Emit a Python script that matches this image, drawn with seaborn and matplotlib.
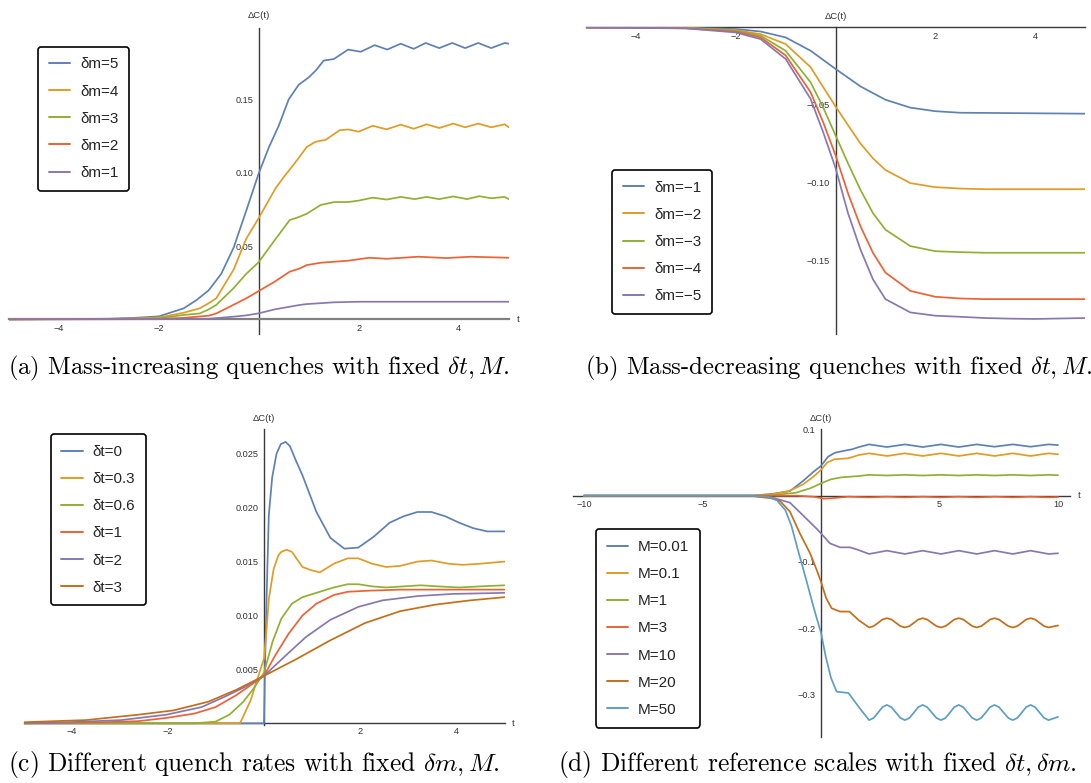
import matplotlib
matplotlib.use("Agg")
import matplotlib.pyplot as plt
import seaborn as sns
import pandas as pd
from matplotlib.ticker import FixedLocator, FuncFormatter

# ============================================================
# DATA
# ============================================================
W, H = 1091, 783
MMA = ["#5E81B5", "#E19C24", "#8FB032", "#EB6235", "#8778B3", "#C56E1A", "#5D9EC7"]

# --- (a) mass-increasing quenches
a_labels = ["δm=5", "δm=4", "δm=3", "δm=2", "δm=1"]
a_dm5_t = [-5, -3, -2.5, -2, -1.5, -1.25, -1, -0.75, -0.5, -0.25, 0, 0.2, 0.4, 0.6, 0.8, 1.0, 1.15,
           1.3, 1.5, 1.79, 2.04, 2.32, 2.57, 2.84, 3.1, 3.34, 3.61, 3.87, 4.13, 4.39, 4.65, 4.92, 5]
a_dm5_y = [0, 0.0004, 0.001, 0.002, 0.0075, 0.013, 0.0198, 0.031, 0.049, 0.074, 0.0995, 0.117, 0.132,
           0.150, 0.160, 0.165, 0.170, 0.1765, 0.1775, 0.184, 0.1825, 0.187, 0.184, 0.188, 0.1845,
           0.1885, 0.185, 0.1885, 0.185, 0.1885, 0.185, 0.1885, 0.188]
a_dm4_t = [-5, -3, -2.5, -2, -1.5, -1.18, -1, -0.85, -0.5, -0.25, 0, 0.33, 0.5, 0.71, 0.96, 1.13,
           1.34, 1.62, 1.79, 2.0, 2.28, 2.56, 2.84, 3.1, 3.36, 3.61, 3.89, 4.13, 4.39, 4.65, 4.92, 5]
a_dm4_y = [0, 0.0003, 0.0006, 0.0012, 0.0045, 0.0075, 0.011, 0.0143, 0.034, 0.055, 0.069, 0.089,
           0.097, 0.106, 0.1175, 0.121, 0.1225, 0.129, 0.1295, 0.128, 0.132, 0.1296, 0.1328, 0.130,
           0.133, 0.1305, 0.1335, 0.131, 0.1335, 0.131, 0.133, 0.131]
a_dm3_t = [-5, -3, -2, -1.5, -1.18, -1, -0.85, -0.51, -0.25, 0, 0.32, 0.62, 0.82, 0.96, 1.24, 1.51,
           1.79, 2.0, 2.28, 2.56, 2.84, 3.12, 3.36, 3.61, 3.89, 4.17, 4.41, 4.65, 4.92, 5]
a_dm3_y = [0, 0.0002, 0.0007, 0.003, 0.004, 0.0068, 0.0098, 0.021, 0.031, 0.039, 0.054, 0.0677, 0.070,
           0.072, 0.078, 0.080, 0.080, 0.081, 0.083, 0.0817, 0.0835, 0.082, 0.0835, 0.082, 0.0838,
           0.082, 0.084, 0.0826, 0.0835, 0.082]
a_dm2_t = [-5, -3, -2, -1.5, -1, -0.85, -0.51, -0.25, 0, 0.32, 0.62, 0.82, 0.96, 1.24, 1.51, 1.79,
           2.21, 2.56, 3.19, 3.75, 4.24, 5]
a_dm2_y = [0, 0.0001, 0.0003, 0.001, 0.0025, 0.004, 0.0098, 0.0143, 0.0193, 0.0257, 0.0325, 0.0347,
           0.037, 0.0386, 0.0393, 0.040, 0.042, 0.0413, 0.0427, 0.0418, 0.0427, 0.042]
a_dm1_t = [-5, -2, -1, -0.51, -0.25, 0, 0.32, 0.62, 0.82, 0.96, 1.5, 2.0, 3, 5]
a_dm1_y = [0, 0.0001, 0.0004, 0.0018, 0.0027, 0.0041, 0.0068, 0.0086, 0.0098, 0.0104, 0.0116, 0.012,
           0.012, 0.012]

# --- (b) mass-decreasing quenches
b_labels = ["δm=−1", "δm=−2", "δm=−3", "δm=−4", "δm=−5"]
b_dm1_t = [-5, -3, -2, -1.5, -1, -0.5, 0, 0.5, 1, 1.5, 2, 2.5, 3, 5]
b_dm1_y = [0, -0.0002, -0.001, -0.0026, -0.0064, -0.015, -0.0267, -0.038, -0.0466, -0.0517, -0.054,
           -0.055, -0.0551, -0.0556]
b_dm2_t = [-5, -3, -2, -1.5, -1, -0.5, 0, 0.25, 0.5, 0.75, 1, 1.5, 2, 2.5, 3, 5]
b_dm2_y = [0, -0.0003, -0.0017, -0.0043, -0.0107, -0.0256, -0.0509, -0.063, -0.0748, -0.0844,
           -0.0919, -0.1004, -0.103, -0.1039, -0.1043, -0.1043]
b_dm3_t = [-5, -3, -2, -1.5, -1, -0.5, -0.25, 0, 0.25, 0.5, 0.75, 1, 1.5, 2, 2.5, 3, 5]
b_dm3_y = [0, -0.0004, -0.002, -0.0053, -0.015, -0.0353, -0.0513, -0.0695, -0.0876, -0.1047,
           -0.1197, -0.1304, -0.141, -0.1443, -0.1449, -0.1453, -0.1453]
b_dm4_t = [-5, -3, -2, -1.5, -1, -0.5, -0.25, 0, 0.25, 0.5, 0.75, 1, 1.5, 2, 2.5, 3, 5]
b_dm4_y = [0, -0.0005, -0.0026, -0.0064, -0.018, -0.0417, -0.0609, -0.0823, -0.1069, -0.1282,
           -0.1453, -0.1581, -0.1699, -0.1737, -0.1748, -0.1752, -0.1752]
b_dm5_t = [-5, -3, -2, -1.5, -1, -0.5, -0.25, 0, 0.25, 0.5, 0.75, 1, 1.5, 2, 2.5, 3, 3.5, 4, 5]
b_dm5_y = [0, -0.0006, -0.0032, -0.0075, -0.0203, -0.046, -0.0673, -0.0905, -0.1197, -0.1432,
           -0.1624, -0.1752, -0.1838, -0.1859, -0.1866, -0.1874, -0.1878, -0.188, -0.1874]

# --- (c) different quench rates
c_labels = ["δt=0", "δt=0.3", "δt=0.6", "δt=1", "δt=2", "δt=3"]
c_dt0_t = [-5, 0, 0.02, 0.05, 0.1, 0.17, 0.26, 0.35, 0.45, 0.54, 0.66, 0.8, 1.09, 1.38, 1.67, 1.96,
           2.28, 2.61, 2.9, 3.19, 3.48, 3.77, 4.06, 4.35, 4.64, 5]
c_dt0_y = [0, 0, 0.005, 0.011, 0.0193, 0.0228, 0.025, 0.0259, 0.0261, 0.0257, 0.0244, 0.023, 0.0196,
           0.0172, 0.0162, 0.0163, 0.0173, 0.0186, 0.0192, 0.0196, 0.0196, 0.0192, 0.0186, 0.0181,
           0.0178, 0.0178]
c_dt03_t = [-5, -0.5, -0.28, -0.14, 0, 0.05, 0.1, 0.2, 0.3, 0.36, 0.47, 0.58, 0.8, 0.98, 1.16, 1.45,
            1.74, 1.96, 2.25, 2.54, 2.83, 3.19, 3.48, 3.84, 4.13, 4.49, 5]
c_dt03_y = [0, 0, 0.0021, 0.0041, 0.006, 0.0085, 0.0115, 0.0143, 0.0156, 0.0159, 0.0161, 0.0159,
            0.0145, 0.0142, 0.014, 0.0148, 0.0153, 0.0153, 0.0148, 0.0145, 0.0146, 0.015, 0.0151,
            0.0148, 0.0147, 0.0148, 0.015]
c_dt06_t = [-5, -1.45, -1.01, -0.72, -0.43, -0.22, 0, 0.18, 0.36, 0.58, 0.8, 1.16, 1.45, 1.74, 1.96,
            2.25, 2.54, 2.9, 3.26, 3.62, 4.06, 4.49, 5]
c_dt06_y = [0, 0, 0.00015, 0.0008, 0.002, 0.0032, 0.0047, 0.0076, 0.0097, 0.0111, 0.0117, 0.0122,
            0.0126, 0.0129, 0.0129, 0.0127, 0.0126, 0.0127, 0.0128, 0.0127, 0.0126, 0.0127, 0.0128]
c_dt1_t = [-5, -3.33, -2.61, -2.03, -1.45, -1.01, -0.58, -0.29, 0, 0.22, 0.51, 0.8, 1.09, 1.45, 1.74,
           2.17, 2.83, 3.55, 5]
c_dt1_y = [0, 0.0001, 0.0002, 0.0005, 0.0009, 0.0015, 0.0026, 0.0035, 0.0044, 0.0062, 0.0083, 0.01,
           0.0111, 0.0119, 0.0122, 0.0123, 0.0124, 0.0124, 0.0124]
c_dt2_t = [-5, -4.06, -2.97, -2.03, -1.3, -0.8, -0.43, 0, 0.43, 0.87, 1.38, 1.96, 2.46, 3.19, 3.91, 5]
c_dt2_y = [0, 0.0001, 0.0003, 0.0008, 0.0015, 0.0025, 0.0033, 0.0044, 0.0062, 0.008, 0.0096, 0.0108,
           0.0114, 0.0118, 0.012, 0.0121]
c_dt3_t = [-5, -3.7, -2.61, -1.88, -1.16, -0.58, 0, 0.65, 1.38, 2.1, 2.83, 3.55, 4.28, 5]
c_dt3_y = [0.0001, 0.0003, 0.0008, 0.0012, 0.002, 0.0031, 0.0044, 0.0059, 0.0077, 0.0093, 0.0104,
           0.011, 0.0114, 0.0117]

# --- (d) different reference scales
d_labels = ["M=0.01", "M=0.1", "M=1", "M=3", "M=10", "M=20", "M=50"]
d_osc_t = [2.03, 2.78, 3.54, 4.29, 5.06, 5.81, 6.57, 7.32, 8.09, 8.84, 9.6, 10]
d_fine_t = [2.03, 2.22, 2.41, 2.59, 2.78, 2.97, 3.16, 3.35, 3.54, 3.73, 3.92, 4.10, 4.29, 4.48, 4.67,
            4.87, 5.06, 5.25, 5.44, 5.62, 5.81, 6.00, 6.19, 6.38, 6.57, 6.76, 6.95, 7.13, 7.32, 7.51,
            7.70, 7.90, 8.09, 8.28, 8.47, 8.65, 8.84, 9.03, 9.22, 9.41, 9.60, 9.80, 10.0]
d_m001_t = [-10, -3, -2.09, -1.31, -0.75, -0.32, 0, 0.3, 0.6, 1.0, 1.3, 1.6] + d_osc_t
d_m001_y = [0, 0, 0.0025, 0.007, 0.0225, 0.036, 0.045, 0.059, 0.065, 0.068, 0.070, 0.0735,
            0.0775, 0.0735, 0.0775, 0.0735, 0.0775, 0.0735, 0.0775, 0.074, 0.0775, 0.074, 0.0775, 0.0765]
d_m01_t = [-10, -3, -2.09, -1.35, -0.76, -0.32, 0, 0.26, 0.56, 1.15, 1.59] + d_osc_t
d_m01_y = [0, 0, 0.002, 0.007, 0.017, 0.0287, 0.039, 0.050, 0.055, 0.0565, 0.0614,
           0.064, 0.060, 0.064, 0.060, 0.064, 0.060, 0.064, 0.060, 0.064, 0.060, 0.064, 0.0625]
d_m1_t = [-10, -3, -2, -1.06, -0.47, 0, 0.41, 0.85, 1.59] + d_osc_t
d_m1_y = [0, 0, 0.001, 0.0045, 0.011, 0.0186, 0.0247, 0.0277, 0.0297,
          0.0315, 0.0305, 0.0315, 0.0305, 0.0315, 0.0305, 0.0315, 0.0305, 0.0315, 0.0305, 0.0315, 0.031]
d_m3_t = [-10, -1, -0.32, 0.12, 0.56, 1.15] + d_osc_t
d_m3_y = [0, 0, -0.0015, -0.0045, -0.0035, -0.0015,
          -0.0025, -0.0015, -0.0025, -0.0015, -0.0025, -0.0015, -0.0025, -0.0015, -0.0025, -0.0015,
          -0.0025, -0.002]
d_m10_t = [-10, -3, -2.09, -1.31, -0.75, -0.18, 0, 0.38, 0.8, 1.22, 1.5] + d_osc_t
d_m10_y = [0, 0, -0.0025, -0.0105, -0.030, -0.050, -0.0569, -0.072, -0.078, -0.078, -0.081,
           -0.088, -0.083, -0.088, -0.083, -0.088, -0.083, -0.088, -0.083, -0.088, -0.083, -0.088, -0.087]
d_m20_t = [-10, -3, -2.09, -1.73, -1.31, -0.89, -0.46, -0.15, 0, 0.22, 0.45, 0.8, 1.2, 1.59] + d_fine_t
d_m20_y = [0, 0, -0.004, -0.008, -0.024, -0.057, -0.087, -0.115, -0.130, -0.155, -0.170, -0.175,
           -0.175, -0.188,
           -0.199, -0.197, -0.192, -0.187, -0.185, -0.187, -0.192, -0.197,
           -0.199, -0.197, -0.192, -0.187, -0.185, -0.187, -0.192, -0.197,
           -0.199, -0.197, -0.192, -0.187, -0.185, -0.187, -0.192, -0.197,
           -0.199, -0.197, -0.192, -0.187, -0.185, -0.187, -0.192, -0.197,
           -0.199, -0.197, -0.192, -0.187, -0.185, -0.187, -0.192, -0.197,
           -0.199, -0.1975, -0.196]
d_m50_t = [-10, -3, -2.24, -1.87, -1.5, -1.25, -0.95, -0.6, -0.3, 0, 0.2, 0.42, 0.66, 1.16, 1.59] + d_fine_t
d_m50_y = [0, 0, -0.0015, -0.0065, -0.022, -0.045, -0.085, -0.130, -0.170, -0.207, -0.243, -0.275,
           -0.296, -0.298, -0.319,
           -0.339, -0.3357, -0.3275, -0.3194, -0.316, -0.3194, -0.3275, -0.3357,
           -0.339, -0.3357, -0.3275, -0.3194, -0.316, -0.3194, -0.3275, -0.3357,
           -0.339, -0.3357, -0.3275, -0.3194, -0.316, -0.3194, -0.3275, -0.3357,
           -0.339, -0.3357, -0.3275, -0.3194, -0.316, -0.3194, -0.3275, -0.3357,
           -0.339, -0.3357, -0.3275, -0.3194, -0.316, -0.3194, -0.3275, -0.3357,
           -0.339, -0.3365, -0.334]

captions = [
    r"(a) Mass-increasing quenches with fixed $\delta t, M$.",
    r"(b) Mass-decreasing quenches with fixed $\delta t, M$.",
    r"(c) Different quench rates with fixed $\delta m, M$.",
    r"(d) Different reference scales with fixed $\delta t, \delta m$.",
]

# ============================================================
# STYLE
# ============================================================
sns.set_style("white")
plt.rcParams["font.family"] = ["Liberation Sans", "DejaVu Sans"]
plt.rcParams["mathtext.fontset"] = "cm"
AXC = "#3a3a3a"

fig = plt.figure(figsize=(W / 100, H / 100), dpi=100)


def px_axes(x0, x1, y0, y1):
    # pixel box (left, right, top, bottom) -> figure axes
    return fig.add_axes([x0 / W, 1 - y1 / H, (x1 - x0) / W, (y1 - y0) / H])


def frange(a, b, step):
    out = []
    k = 0
    while a + k * step <= b + 1e-9:
        out.append(round(a + k * step, 6))
        k += 1
    return out


def minus_fmt(fmt):
    return FuncFormatter(lambda v, pos: (fmt % v).replace("-", "\u2212"))


def draw_panel(ax, curves, labels, colors, xlim, ylim, xmaj, xmin_step, ymaj, ymin_step, yfmt,
               legend_xy, lab_off, show_t=True):
    frames = []
    for (tt, yy), lab in zip(curves, labels):
        frames.append(pd.DataFrame({"t": tt, "dC": yy, "series": lab}))
    df = pd.concat(frames, ignore_index=True)
    sns.lineplot(data=df, x="t", y="dC", hue="series", hue_order=labels, palette=colors,
                 estimator=None, sort=False, linewidth=1.25, ax=ax, zorder=3)

    ax.set_xlim(*xlim)
    ax.set_ylim(*ylim)
    ax.set_facecolor("none")
    for s in ["top", "right"]:
        ax.spines[s].set_visible(False)
    ax.spines["left"].set_position(("data", 0))
    ax.spines["bottom"].set_position(("data", 0))
    for s in ["left", "bottom"]:
        ax.spines[s].set_color(AXC)
        ax.spines[s].set_linewidth(1.0)

    ax.xaxis.set_major_locator(FixedLocator(xmaj))
    xm = [v for v in frange(-20, 20, xmin_step) if xlim[0] <= v <= xlim[1] and v not in xmaj and v != 0]
    ax.xaxis.set_minor_locator(FixedLocator(xm))
    ax.yaxis.set_major_locator(FixedLocator(ymaj))
    ym = [v for v in frange(-1, 1, ymin_step)
          if ylim[0] <= v <= ylim[1] and all(abs(v - m) > 1e-9 for m in ymaj) and abs(v) > 1e-9]
    ax.yaxis.set_minor_locator(FixedLocator(ym))
    ax.xaxis.set_major_formatter(minus_fmt("%d"))
    ax.yaxis.set_major_formatter(minus_fmt(yfmt))
    ax.tick_params(which="major", direction="in", length=3.1, width=0.8, color=AXC,
                   labelsize=6.6, labelcolor="#333333")
    ax.tick_params(axis="x", which="major", pad=3)
    ax.tick_params(axis="y", which="major", pad=4)
    ax.tick_params(which="minor", direction="in", length=1.7, width=0.6, color=AXC)
    ax.set_xlabel("")
    ax.set_ylabel("")

    ax.annotate("ΔC(t)", xy=(0, ylim[1]), xytext=(0, lab_off), textcoords="offset points",
                ha="center", va="center", fontsize=6.8, color="#333333", annotation_clip=False)
    if show_t:
        ax.annotate("t", xy=(xlim[1], 0), xytext=(6.5, 0), textcoords="offset points",
                    ha="center", va="center", fontsize=6.8, color="#333333", annotation_clip=False)

    handles, labs = ax.get_legend_handles_labels()
    leg = ax.legend(handles, labs, loc="upper left",
                    bbox_to_anchor=(legend_xy[0] / W, 1 - legend_xy[1] / H),
                    bbox_transform=fig.transFigure, borderaxespad=0, frameon=True,
                    fancybox=True, framealpha=1, edgecolor="black", fontsize=11,
                    handlelength=1.4, handletextpad=0.65, labelspacing=0.86, borderpad=0.7)
    leg.get_frame().set_linewidth(1.2)
    for ln in leg.get_lines():
        ln.set_linewidth(1.4)
    return ax


# ============================================================
# PANELS
# ============================================================
ax_a = px_axes(8.7, 508.7, 28.3, 334)
draw_panel(ax_a,
           [(a_dm5_t, a_dm5_y), (a_dm4_t, a_dm4_y), (a_dm3_t, a_dm3_y), (a_dm2_t, a_dm2_y),
            (a_dm1_t, a_dm1_y)],
           a_labels, MMA[:5], (-5, 5), (-0.0100, 0.1985), [-4, -2, 2, 4], 0.5,
           [0.05, 0.10, 0.15], 0.01, "%.2f", (38.3, 46.7), 8.9)
ax_a.spines["bottom"].set_color("#808080")
ax_a.spines["bottom"].set_linewidth(1.6)

ax_b = px_axes(586, 1085, 26.7, 334)
draw_panel(ax_b,
           [(b_dm1_t, b_dm1_y), (b_dm2_t, b_dm2_y), (b_dm3_t, b_dm3_y), (b_dm4_t, b_dm4_y),
            (b_dm5_t, b_dm5_y)],
           b_labels, MMA[:5], (-5, 5), (-0.1977, 0.0005), [-4, -2, 2, 4], 0.5,
           [-0.05, -0.10, -0.15], 0.01, "%.2f", (612, 170), 7.7, show_t=False)

ax_c = px_axes(23.5, 504.5, 429.3, 724.5)
draw_panel(ax_c,
           [(c_dt0_t, c_dt0_y), (c_dt03_t, c_dt03_y), (c_dt06_t, c_dt06_y), (c_dt1_t, c_dt1_y),
            (c_dt2_t, c_dt2_y), (c_dt3_t, c_dt3_y)],
           c_labels, MMA[:6], (-5, 5), (-0.00011, 0.02727), [-4, -2, 2, 4], 0.5,
           [0.005, 0.010, 0.015, 0.020, 0.025], 0.001, "%.3f", (50.5, 434.3), 8.1)

ax_d = px_axes(573, 1070.4, 429.3, 736.7)
draw_panel(ax_d,
           [(d_m001_t, d_m001_y), (d_m01_t, d_m01_y), (d_m1_t, d_m1_y), (d_m3_t, d_m3_y),
            (d_m10_t, d_m10_y), (d_m20_t, d_m20_y), (d_m50_t, d_m50_y)],
           d_labels, MMA[:7], (-10.46, 10.52), (-0.364, 0.1003), [-10, -5, 5, 10], 1,
           [0.1, -0.1, -0.2, -0.3], 0.02, "%.1f", (596.2, 529.3), 8.1)

# captions (LaTeX-like serif)
cap_pos = [(8, 368), (585, 368), (8, 765), (558, 765)]
cap_size = [17.8, 17.8, 18.3, 18.3]
for (cx, cy), fs, txt in zip(cap_pos, cap_size, captions):
    fig.text(cx / W, 1 - cy / H, txt, ha="left", va="center", fontsize=fs,
             family="cmr10", color="black")

fig.savefig("out.png", dpi=100)
print("Saved: out.png")
